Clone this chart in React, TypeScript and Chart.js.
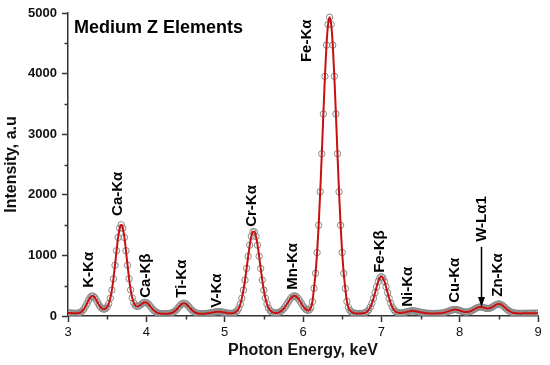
import { useEffect, useRef } from 'react';
import { Chart, registerables } from 'chart.js';

Chart.register(...registerables);

// ---- data ----
const ENERGY_START = 3.0; // keV
const ENERGY_STEP = 0.02; // keV between samples

// measured intensity (a.u.) from 3.00 keV to 9.00 keV, every 0.02 keV
const intensity = [
  52, 50, 48, 46, 45, 44, 45, 50, 61, 80,
  110, 150, 202, 254, 300, 327, 329, 307, 267, 219,
  174, 140, 119, 113, 121, 149, 204, 293, 428, 613,
  837, 1077, 1296, 1449, 1505, 1449, 1296, 1077, 838, 614,
  431, 300, 216, 172, 157, 162, 178, 199, 217, 225,
  222, 205, 178, 147, 113, 87, 68, 53, 46, 41,
  38, 37, 37, 37, 39, 42, 49, 60, 76, 99,
  127, 157, 185, 204, 211, 204, 185, 157, 127, 99,
  76, 60, 49, 42, 39, 38, 38, 39, 41, 44,
  47, 52, 57, 62, 67, 70, 71, 70, 67, 62,
  57, 52, 47, 45, 44, 45, 51, 64, 87, 129,
  195, 295, 427, 593, 785, 985, 1169, 1312, 1390, 1390,
  1312, 1169, 985, 785, 593, 427, 295, 199, 133, 91,
  68, 55, 50, 50, 55, 64, 80, 102, 130, 166,
  207, 248, 286, 315, 330, 330, 315, 286, 248, 207,
  165, 130, 105, 92, 98, 135, 235, 458, 704, 1048,
  1498, 2050, 2678, 3334, 3955, 4470, 4811, 4930, 4811, 4470,
  3955, 3334, 2678, 2050, 1498, 1048, 702, 454, 240, 140,
  90, 65, 52, 46, 42, 40, 41, 42, 44, 48,
  57, 74, 103, 147, 210, 291, 385, 483, 569, 629,
  650, 629, 569, 483, 385, 291, 210, 147, 103, 74,
  59, 52, 50, 52, 56, 61, 67, 74, 80, 84,
  85, 84, 80, 74, 67, 63, 57, 52, 48, 46,
  44, 43, 42, 42, 42, 43, 44, 45, 47, 51,
  56, 63, 72, 81, 91, 99, 105, 107, 105, 99,
  92, 82, 74, 68, 64, 65, 70, 79, 91, 106,
  121, 134, 144, 148, 147, 141, 133, 126, 124, 127,
  136, 151, 168, 185, 195, 199, 194, 180, 160, 137,
  113, 93, 76, 63, 54, 49, 46, 44, 43, 43,
  43, 44, 44, 45, 45, 45, 46, 46, 46, 47,
  47,
];

const X_MIN = 3;
const X_MAX = 9;
const Y_MIN = 0;
const Y_MAX = 5000;

const chartTitle = 'Medium Z Elements';
const xTitle = 'Photon Energy, keV';
const yTitle = 'Intensity, a.u';

// peak annotations (label, energy of label centre, intensity where label starts)
const peakLabels = ['K-Kα', 'Ca-Kα', 'Ca-Kβ', 'Ti-Kα', 'V-Kα', 'Cr-Kα', 'Mn-Kα', 'Fe-Kα', 'Fe-Kβ', 'Ni-Kα', 'Cu-Kα', 'W-Lα1', 'Zn-Kα'];
const peakLabelEnergy = [3.26, 3.636, 3.988, 4.455, 4.895, 5.349, 5.872, 6.051, 6.98, 7.333, 7.937, 8.278, 8.49];
const peakLabelIntensity = [466, 1652, 301, 301, 137, 1471, 433, 4190, 713, 153, 219, 1224, 318];

// arrow pointing at W-Lα1
const arrowEnergy = 8.278;
const arrowFrom = 1142;
const arrowTo = 150;

const FONT = '"Liberation Sans", Arial, Helvetica, sans-serif';

const overlayPlugin = {
  id: 'overlay',
  afterDraw(chart: any) {
    const { ctx, chartArea, scales } = chart;
    const xs = scales.x;
    const ys = scales.y;
    ctx.save();
    // minor ticks
    ctx.strokeStyle = '#333';
    ctx.lineWidth = 1.5;
    xs.ticks.forEach((t: any) => {
      if (!Number.isInteger(t.value)) {
        const px = Math.round(xs.getPixelForValue(t.value)) + 0.5;
        ctx.beginPath();
        ctx.moveTo(px, chartArea.bottom);
        ctx.lineTo(px, chartArea.bottom + 3.5);
        ctx.stroke();
      }
    });
    ys.ticks.forEach((t: any) => {
      if (t.value % 1000 !== 0) {
        const py = Math.round(ys.getPixelForValue(t.value)) + 0.5;
        ctx.beginPath();
        ctx.moveTo(chartArea.left - 3.5, py);
        ctx.lineTo(chartArea.left, py);
        ctx.stroke();
      }
    });

    // chart title inside plot
    ctx.fillStyle = '#000';
    ctx.font = `bold 18px ${FONT}`;
    ctx.textAlign = 'left';
    ctx.textBaseline = 'alphabetic';
    ctx.fillText(chartTitle, chartArea.left + 6, chartArea.top + 20);

    // rotated peak labels
    ctx.font = `bold 15px ${FONT}`;
    ctx.textBaseline = 'middle';
    peakLabels.forEach((lab, i) => {
      const px = xs.getPixelForValue(peakLabelEnergy[i]);
      const py = ys.getPixelForValue(peakLabelIntensity[i]);
      ctx.save();
      ctx.translate(px, py);
      ctx.rotate(-Math.PI / 2);
      ctx.fillText(lab, 0, 0);
      ctx.restore();
    });

    // arrow
    const ax = Math.round(xs.getPixelForValue(arrowEnergy)) + 0.5;
    const ay1 = ys.getPixelForValue(arrowFrom);
    const ay2 = ys.getPixelForValue(arrowTo);
    ctx.strokeStyle = '#000';
    ctx.lineWidth = 1.5;
    ctx.beginPath();
    ctx.moveTo(ax, ay1);
    ctx.lineTo(ax, ay2 - 8);
    ctx.stroke();
    ctx.fillStyle = '#000';
    ctx.beginPath();
    ctx.moveTo(ax, ay2);
    ctx.lineTo(ax - 3.5, ay2 - 10);
    ctx.lineTo(ax + 3.5, ay2 - 10);
    ctx.closePath();
    ctx.fill();
    ctx.restore();
  },
};

export default function App() {
  const canvasRef = useRef<HTMLCanvasElement | null>(null);

  useEffect(() => {
    document.body.style.margin = '0';
    const canvas = canvasRef.current;
    if (!canvas) return;
    Chart.defaults.font.family = FONT;

    const points = intensity.map((v, i) => ({
      x: Number((ENERGY_START + i * ENERGY_STEP).toFixed(2)),
      y: v,
    }));

    const chart = new Chart(canvas, {
      type: 'line',
      data: {
        datasets: [
          {
            label: 'Fit',
            data: points,
            borderColor: '#c81010',
            borderWidth: 2,
            pointRadius: 0,
            fill: false,
            cubicInterpolationMode: 'monotone',
            order: 0,
          },
          {
            label: 'Data',
            data: points,
            showLine: false,
            pointStyle: 'circle',
            pointRadius: 3.2,
            pointBorderWidth: 1,
            pointBorderColor: '#888888',
            pointBackgroundColor: 'rgba(0,0,0,0)',
            order: 1,
          },
        ],
      },
      options: {
        animation: false,
        responsive: true,
        maintainAspectRatio: false,
        devicePixelRatio: 1,
        layout: { padding: { left: 0, right: 12, top: 13, bottom: 0 } },
        plugins: {
          legend: { display: false },
          tooltip: { enabled: false },
          title: { display: false },
        },
        scales: {
          x: {
            type: 'linear',
            position: 'bottom',
            min: X_MIN,
            max: X_MAX,
            afterFit: (scale: any) => {
              scale.height = 49;
            },
            ticks: {
              stepSize: 0.5,
              autoSkip: false,
              maxRotation: 0,
              padding: 3,
              color: '#111',
              font: { size: 13, family: FONT },
              callback: (v: any) => (Number.isInteger(v) ? String(v) : ''),
            },
            grid: {
              drawOnChartArea: false,
              drawTicks: true,
              tickLength: 6,
              tickWidth: 1.5,
              tickColor: (c: any) => (c.tick && Number.isInteger(c.tick.value) ? '#333' : 'rgba(0,0,0,0)'),
            },
            border: { display: true, color: '#333', width: 1.5 },
            title: {
              display: true,
              text: xTitle,
              color: '#111',
              font: { size: 16, weight: 'bold', family: FONT },
              padding: { top: 0, bottom: 5 },
            },
          },
          y: {
            type: 'linear',
            min: Y_MIN,
            max: Y_MAX,
            afterFit: (scale: any) => {
              scale.width = 68;
            },
            ticks: {
              stepSize: 500,
              autoSkip: false,
              padding: 5,
              color: '#111',
              font: { size: 13, weight: 'bold', family: FONT },
              callback: (v: any) => (v % 1000 === 0 ? String(v) : ''),
            },
            grid: {
              drawOnChartArea: false,
              drawTicks: true,
              tickLength: 6,
              tickWidth: 1.5,
              tickColor: (c: any) => (c.tick && c.tick.value % 1000 === 0 ? '#333' : 'rgba(0,0,0,0)'),
            },
            border: { display: true, color: '#333', width: 1.5 },
            title: {
              display: true,
              text: yTitle,
              color: '#111',
              font: { size: 16, weight: 'bold', family: FONT },
              padding: { top: 2, bottom: 0 },
            },
          },
        },
      },
      plugins: [overlayPlugin],
    });

    return () => {
      chart.destroy();
    };
  }, []);

  return (
    <div style={{ position: 'absolute', left: 0, top: 0, width: 550, height: 365 }}>
      <canvas ref={canvasRef} />
    </div>
  );
}
